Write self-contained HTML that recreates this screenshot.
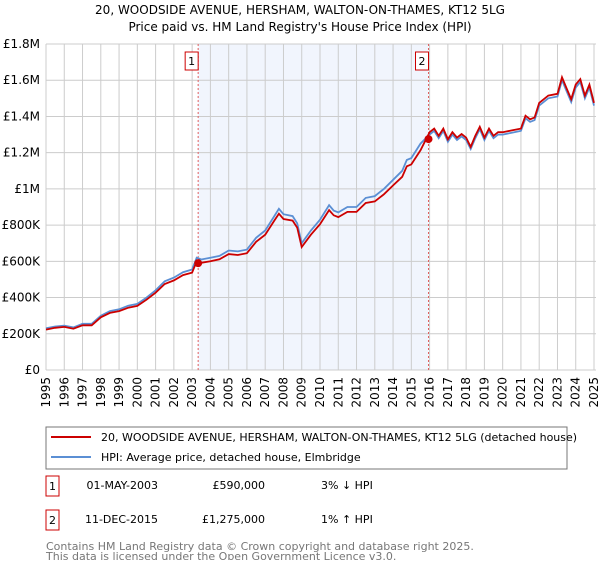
<!DOCTYPE html>
<html><head><meta charset="utf-8"><style>
body{margin:0;background:#fff;font-family:"Liberation Sans","DejaVu Sans",sans-serif;}
svg text{font-family:"DejaVu Sans","Liberation Sans",sans-serif;}
</style></head><body>
<svg width="600" height="560" xmlns="http://www.w3.org/2000/svg">
<text x="300" y="14" font-size="12" text-anchor="middle">20, WOODSIDE AVENUE, HERSHAM, WALTON-ON-THAMES, KT12 5LG</text>
<text x="300" y="31" font-size="12" text-anchor="middle">Price paid vs. HM Land Registry's House Price Index (HPI)</text>
<g id="plot"></g>
<g>
<rect x="46" y="427" width="521" height="42" fill="#fff" stroke="#777"/>
<line x1="51" y1="437" x2="91" y2="437" stroke="#cc0000" stroke-width="2"/>
<text x="101" y="441" font-size="11">20, WOODSIDE AVENUE, HERSHAM, WALTON-ON-THAMES, KT12 5LG (detached house)</text>
<line x1="51" y1="457" x2="91" y2="457" stroke="#5b8fd4" stroke-width="2"/>
<text x="101" y="461" font-size="11">HPI: Average price, detached house, Elmbridge</text>
</g>
<g font-size="11">
<rect x="46" y="476" width="13" height="20" fill="#fff" stroke="#cc0000"/>
<text x="52.5" y="490" text-anchor="middle">1</text>
<text x="158" y="489" text-anchor="end">01-MAY-2003</text>
<text x="265" y="489" text-anchor="end">£590,000</text>
<text x="321" y="489">3% ↓ HPI</text>
<rect x="46" y="510" width="13" height="20" fill="#fff" stroke="#cc0000"/>
<text x="52.5" y="524" text-anchor="middle">2</text>
<text x="158" y="523" text-anchor="end">11-DEC-2015</text>
<text x="265" y="523" text-anchor="end">£1,275,000</text>
<text x="321" y="523">1% ↑ HPI</text>
</g>
<text x="46" y="550" font-size="11" fill="#777">Contains HM Land Registry data © Crown copyright and database right 2025.</text>
<text x="46" y="560" font-size="11" fill="#777">This data is licensed under the Open Government Licence v3.0.</text>
</svg>
<script>
const dates=[1995,1995.5,1996,1996.5,1997,1997.5,1998,1998.5,1999,1999.5,2000,2000.5,2001,2001.5,2002,2002.5,2003,2003.25,2003.5,2004,2004.5,2005,2005.5,2006,2006.5,2007,2007.5,2007.75,2008,2008.5,2008.75,2009,2009.5,2010,2010.5,2010.75,2011,2011.5,2012,2012.5,2013,2013.5,2014,2014.5,2014.75,2015,2015.5,2016,2016.25,2016.5,2016.75,2017,2017.25,2017.5,2017.75,2018,2018.25,2018.5,2018.75,2019,2019.25,2019.5,2019.75,2020,2020.5,2021,2021.25,2021.5,2021.75,2022,2022.5,2023,2023.25,2023.5,2023.75,2024,2024.25,2024.5,2024.75,2025];
const hpi=[230,240,245,235,255,255,300,325,335,355,365,400,440,490,510,540,555,620,610,620,630,660,655,665,730,770,850,890,860,850,810,700,770,830,910,880,870,900,900,950,960,1000,1050,1100,1160,1170,1250,1300,1320,1280,1320,1260,1300,1270,1290,1270,1220,1280,1330,1270,1320,1280,1300,1300,1310,1320,1390,1370,1380,1460,1500,1510,1600,1540,1480,1560,1590,1500,1560,1460];
const price=[223,233,238,228,247,247,291,315,325,344,354,388,427,475,495,524,538,601,592,601,611,640,635,645,708,747,825,863,834,825,786,679,747,805,883,854,844,873,873,922,931,970,1019,1067,1125,1135,1213,1313,1333,1293,1333,1273,1313,1283,1303,1283,1232,1293,1343,1283,1333,1293,1313,1313,1323,1333,1404,1384,1394,1475,1515,1525,1616,1555,1495,1576,1606,1515,1576,1475];
const yTicks=[0,200,400,600,800,1000,1200,1400,1600,1800];
const yLabels=["£0","£200K","£400K","£600K","£800K","£1M","£1.2M","£1.4M","£1.6M","£1.8M"];
const years=[1995,1996,1997,1998,1999,2000,2001,2002,2003,2004,2005,2006,2007,2008,2009,2010,2011,2012,2013,2014,2015,2016,2017,2018,2019,2020,2021,2022,2023,2024,2025];
const saleDates=[2003.33,2015.94];
const salePrices=[590,1275];
const saleLabels=["1","2"];
const X0=46,X1=594,Y0=370,Y1=44;
const x=d=>X0+(d-1995)/30*(X1-X0);
const y=v=>Y0-v/1800*(Y0-Y1);
const NS="http://www.w3.org/2000/svg";
const g=document.getElementById('plot');
function mk(t,a){const e=document.createElementNS(NS,t);for(const k in a)e.setAttribute(k,a[k]);g.appendChild(e);return e;}
const shade=mk('rect',{x:x(saleDates[0]),y:Y1,width:x(saleDates[1])-x(saleDates[0]),height:Y0-Y1,fill:'#eef3fc',opacity:0.8});


yTicks.forEach((t,i)=>{
 const l=mk('line',{x1:X0,x2:X1+2,y1:y(t),y2:y(t),stroke:'#ccc'});
 
 
 const tx=mk('text',{x:40,y:y(t)+4,'font-size':12,'text-anchor':'end'});tx.textContent=yLabels[i];
 
 
});
years.forEach(yr=>{
 const l=mk('line',{x1:x(yr),x2:x(yr),y1:Y1,y2:Y0,stroke:'#ccc'});
 
 
 const tx=mk('text',{x:0,y:0,'font-size':12,'text-anchor':'end',transform:`translate(${x(yr)+4},377) rotate(-90)`});tx.textContent=yr;
 
 
});
saleDates.forEach((d,i)=>{
 const l=mk('line',{x1:x(d),x2:x(d),y1:Y1,y2:Y0,stroke:'#e06060','stroke-dasharray':'2,2','stroke-width':1});
 
 
});
const pts=a=>a.map((v,i)=>x(dates[i]).toFixed(1)+','+y(v).toFixed(1)).join(' ');
const hl=mk('polyline',{points:pts(hpi),fill:'none',stroke:'#5b8fd4','stroke-width':1.8});


const pl=mk('polyline',{points:pts(price),fill:'none',stroke:'#cc0000','stroke-width':1.8});


saleDates.forEach((d,i)=>{
 const c=mk('circle',{cx:x(d),cy:y(salePrices[i]),r:4,fill:'#cc0000'});
 
 
 const b=mk('rect',{x:x(d)-13,y:52,width:13,height:18,fill:'#fff',stroke:'#cc0000'});
 
 
 const t=mk('text',{x:x(d)-6.5,y:65,'font-size':11,'text-anchor':'middle'});t.textContent=saleLabels[i];
 
 
});
</script>
</body></html>
